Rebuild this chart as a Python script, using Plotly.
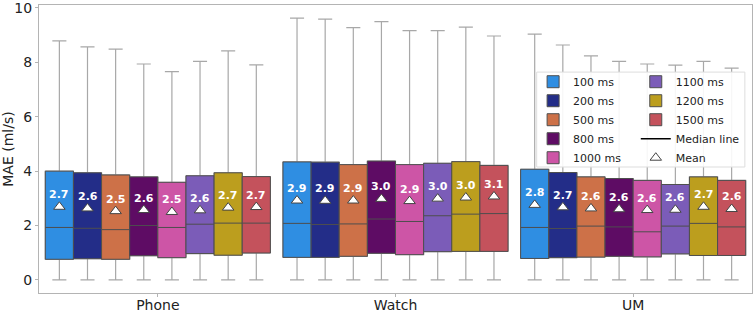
import plotly.graph_objects as go

groups = ["Phone", "Watch", "UM"]
series = ["100 ms", "200 ms", "500 ms", "800 ms", "1000 ms", "1100 ms", "1200 ms", "1500 ms"]
box_colors = ["#2f8ee2", "#232d88", "#cd7148", "#5e0c64", "#cd55a6", "#7b5cb8", "#bc9e1e", "#c4525c"]

# per series: values for [Phone, Watch, UM]
q1 = [
    [0.76, 0.83, 0.79],
    [0.78, 0.83, 0.82],
    [0.76, 0.87, 0.84],
    [0.89, 0.98, 0.87],
    [0.82, 0.93, 0.85],
    [0.97, 1.04, 0.96],
    [0.91, 1.05, 0.90],
    [0.99, 1.05, 0.90],
]
median = [
    [1.93, 2.08, 1.93],
    [1.90, 2.04, 1.89],
    [1.85, 2.06, 1.98],
    [2.00, 2.24, 1.95],
    [1.93, 2.15, 1.77],
    [2.05, 2.36, 1.98],
    [2.09, 2.42, 2.08],
    [2.09, 2.44, 1.95],
]
q3 = [
    [4.00, 4.34, 4.07],
    [3.94, 4.33, 3.95],
    [3.86, 4.24, 3.79],
    [3.79, 4.37, 3.73],
    [3.59, 4.24, 3.66],
    [3.83, 4.29, 3.51],
    [3.94, 4.35, 3.79],
    [3.80, 4.21, 3.66],
]
lower = [
    [0.0, 0.0, 0.0],
    [0.0, 0.0, 0.0],
    [0.0, 0.0, 0.0],
    [0.0, 0.0, 0.0],
    [0.0, 0.0, 0.0],
    [0.0, 0.0, 0.0],
    [0.0, 0.0, 0.0],
    [0.0, 0.0, 0.0],
]
upper = [
    [8.79, 9.63, 9.04],
    [8.57, 9.59, 8.64],
    [8.49, 9.28, 8.24],
    [7.94, 9.50, 8.04],
    [7.66, 9.17, 7.94],
    [8.04, 9.17, 7.90],
    [8.42, 9.30, 8.04],
    [7.91, 8.97, 7.79],
]
means = [
    [2.69, 2.92, 2.76],
    [2.63, 2.91, 2.67],
    [2.53, 2.92, 2.63],
    [2.57, 2.98, 2.60],
    [2.50, 2.90, 2.57],
    [2.56, 2.99, 2.58],
    [2.66, 3.03, 2.69],
    [2.68, 3.07, 2.61],
]
y_ticks = [0, 2, 4, 6, 8, 10]

FONT = "DejaVu Sans"
n = len(series)
group_width = 0.947
bw = group_width / n

def pos(i):
    return [g + (i - (n - 1) / 2) * bw for g in range(len(groups))]

fig = go.Figure()

# whiskers (light gray), underneath
for i in range(n):
    fig.add_trace(go.Box(
        x=pos(i), q1=q1[i], median=median[i], q3=q3[i],
        lowerfence=lower[i], upperfence=upper[i],
        width=bw, whiskerwidth=0.5,
        fillcolor="rgba(0,0,0,0)", line=dict(color="#a8a8a8", width=1.2),
        showlegend=False, hoverinfo="skip",
    ))

# boxes (first five series in the left legend column, others in the right)
for i in range(n):
    fig.add_trace(go.Box(
        x=pos(i), q1=q1[i], median=median[i], q3=q3[i],
        lowerfence=q1[i], upperfence=q3[i],
        width=bw, whiskerwidth=0,
        fillcolor=box_colors[i], line=dict(color="#4e4e4e", width=1),
        name=series[i], legend="legend" if i < 5 else "legend2",
    ))

# median legend entry
fig.add_trace(go.Scatter(
    x=[None], y=[None], mode="lines", line=dict(color="black", width=1.5),
    name="Median line", legend="legend2",
))

# mean markers
mx, my = [], []
for i in range(n):
    mx += pos(i)
    my += means[i]
fig.add_trace(go.Scatter(
    x=mx, y=my, mode="markers",
    marker=dict(symbol="triangle-up", size=10, color="white", line=dict(color="#444", width=1)),
    name="Mean", legend="legend2",
))

for xv, yv in zip(mx, my):
    fig.add_annotation(
        x=xv, y=yv, text=f"<b>{yv:.1f}</b>", showarrow=False, yshift=12,
        font=dict(family=FONT, size=11, color="white"),
    )

# legend background frame
fig.add_shape(
    type="rect", xref="paper", yref="paper", x0=0.698, x1=0.990, y0=0.4375, y1=0.767,
    fillcolor="rgba(255,255,255,0.9)", line=dict(color="#dddddd", width=1), layer="above",
)

leg_common = dict(
    orientation="v", yanchor="top", xanchor="left", bgcolor="rgba(0,0,0,0)",
    borderwidth=0, font=dict(family=FONT, size=11, color="#222"), itemwidth=30,
    tracegroupgap=0,
)

fig.update_layout(
    width=755, height=314,
    margin=dict(l=39, r=3, t=5, b=21),
    paper_bgcolor="white", plot_bgcolor="white",
    boxmode="overlay",
    font=dict(family=FONT, size=14, color="#222"),
    legend=dict(x=0.693, y=0.784, **leg_common),
    legend2=dict(x=0.837, y=0.784, **leg_common),
    xaxis=dict(
        range=[-0.5, 2.5], tickvals=list(range(len(groups))), ticktext=groups,
        showline=True, mirror=True, linecolor="#b4b4b4", linewidth=1,
        ticks="outside", ticklen=3, tickcolor="#b4b4b4", showgrid=False, zeroline=False,
        tickfont=dict(size=14), automargin=False, ticklabelstandoff=-4,
    ),
    yaxis=dict(
        range=[-0.48, 10.11], tickvals=y_ticks,
        showline=True, mirror=True, linecolor="#b4b4b4", linewidth=1,
        ticks="outside", ticklen=3, tickcolor="#b4b4b4", showgrid=False, zeroline=False,
        tickfont=dict(size=14), automargin=False, ticklabeloverflow="allow",
        title=dict(text="MAE (ml/s)", font=dict(size=14), standoff=2),
    ),
)

fig.write_html(
    "out.html",
    config={"displayModeBar": False},
    post_script="document.body.style.margin='0';document.body.style.padding='0';",
)
